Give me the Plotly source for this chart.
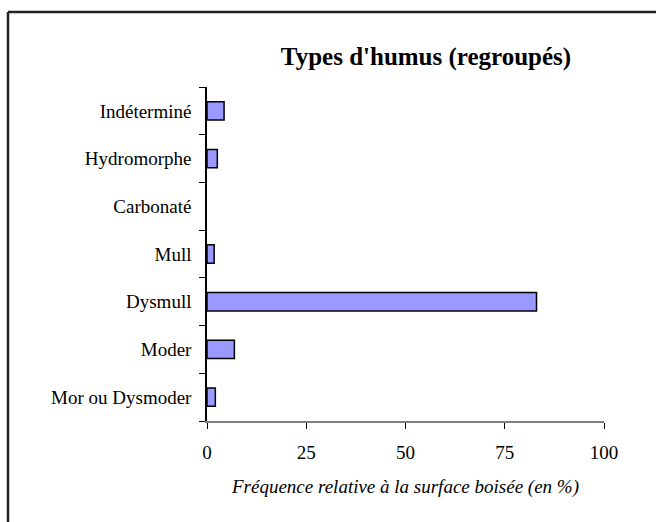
import plotly.graph_objects as go

categories = ["Mor ou Dysmoder", "Moder", "Dysmull", "Mull", "Carbonaté", "Hydromorphe", "Indéterminé"]
values = [2.1, 6.9, 83.0, 1.8, 0.0, 2.6, 4.3]
x_ticks = [0, 25, 50, 75, 100]

W, H = 656, 522
L, R, T, B = 207, 52, 87, 101
pw, ph = W - L - R, H - T - B

def px_x(p):
    return (p - L) / pw

def px_y(p):
    return (H - B - p) / ph

# no outline drawn for empty bars (Carbonaté)
outline = [1.5 if v > 0 else 0 for v in values]

fig = go.Figure(go.Bar(
    x=values, y=categories, orientation="h",
    marker=dict(color="#9999FF", line=dict(color="black", width=outline)),
    width=0.385,
))

frame = dict(color="#222222", width=2.5)

fig.update_layout(
    width=W, height=H,
    margin=dict(l=L, r=R, t=T, b=B),
    plot_bgcolor="white", paper_bgcolor="white",
    font=dict(family="Liberation Serif", color="black"),
    showlegend=False,
    title=dict(text="<b>Types d'humus (regroupés)</b>", x=426 / W, xanchor="center",
               y=1 - 56 / H, yanchor="middle", font=dict(size=25)),
    xaxis=dict(range=[0, 100], tickvals=x_ticks, showgrid=False, zeroline=False,
               showline=True, linecolor="#808080", linewidth=1.5,
               ticks="outside", ticklen=6, tickcolor="black",
               tickfont=dict(size=19), ticklabelstandoff=7,
               title=dict(text="<i>Fréquence relative à la surface boisée (en %)</i>",
                          font=dict(size=19), standoff=18)),
    yaxis=dict(showgrid=False, zeroline=False, showline=True, linecolor="black", linewidth=1.5,
               ticks="outside", ticklen=6, tickcolor="black", tickson="boundaries",
               tickfont=dict(size=19), ticklabelstandoff=10),
    shapes=[
        dict(type="line", xref="paper", yref="paper",
             x0=px_x(8), x1=px_x(8), y0=px_y(12), y1=px_y(H + 10), line=frame, layer="below"),
        dict(type="line", xref="paper", yref="paper",
             x0=px_x(8), x1=px_x(W + 10), y0=px_y(12), y1=px_y(12), line=frame, layer="below"),
    ],
)

fig.write_html("out.html", config={"displayModeBar": False},
               post_script="document.body.style.margin='0';document.body.style.overflow='hidden';")
